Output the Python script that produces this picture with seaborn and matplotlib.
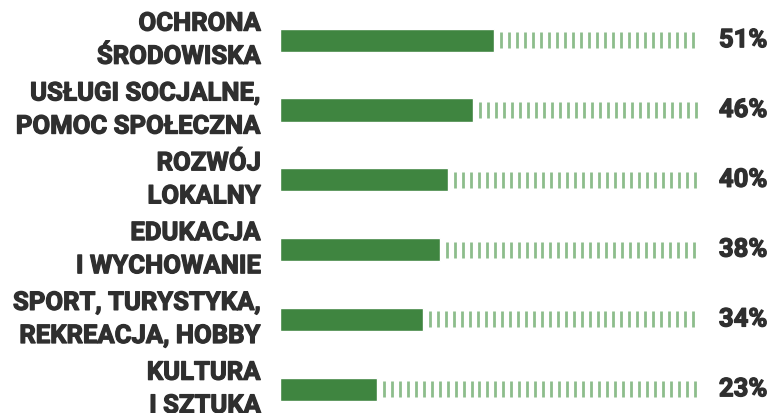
import numpy as np
import pandas as pd
import seaborn as sns
from matplotlib import pyplot as plt
import matplotlib.patheffects as pe

categories = ['OCHRONA\nŚRODOWISKA', 'USŁUGI SOCJALNE,\nPOMOC SPOŁECZNA', 'ROZWÓJ\nLOKALNY',
              'EDUKACJA\nI WYCHOWANIE', 'SPORT, TURYSTYKA,\nREKREACJA, HOBBY', 'KULTURA\nI SZTUKA']
values = [51, 46, 40, 38, 34, 23]
value_labels = ['51%', '46%', '40%', '38%', '34%', '23%']

df = pd.DataFrame({'area': categories, 'share': values})

sns.set_style("white")
plt.rcParams['font.family'] = ['Roboto', 'DejaVu Sans']

bar_green = '#3f8540'
stripe_green = '#8dbd8c'
text_col = '#2f2f2f'
heavy = [pe.withStroke(linewidth=0.9, foreground=text_col)]

fig = plt.figure(figsize=(7.76, 4.14), dpi=100)
ax = fig.add_axes([280 / 776, 0, 420 / 776, 1])

sns.barplot(data=df, x='share', y='area', color=bar_green, width=0.33,
            saturation=1, ax=ax, orient='h')

# striped "rest of 100%" track after each bar
for i, v in enumerate(values):
    xs = np.arange(v + 1.7, 99.7, 1.9)
    ax.vlines(xs, i - 0.115, i + 0.115, color=stripe_green, linewidth=2.0)
    ax.text(-4.5, i, categories[i], ha='right', va='center', fontsize=18.5,
            fontweight='bold', color=text_col, linespacing=1.48, clip_on=False,
            path_effects=heavy)
    ax.text(104.5, i, value_labels[i], ha='left', va='center', fontsize=18.5,
            fontweight='bold', color=text_col, clip_on=False, path_effects=heavy)

ax.set_xlim(0, 100)
ax.set_ylim(5.34, -0.59)
ax.axis('off')

plt.savefig('out.png', dpi=100)
